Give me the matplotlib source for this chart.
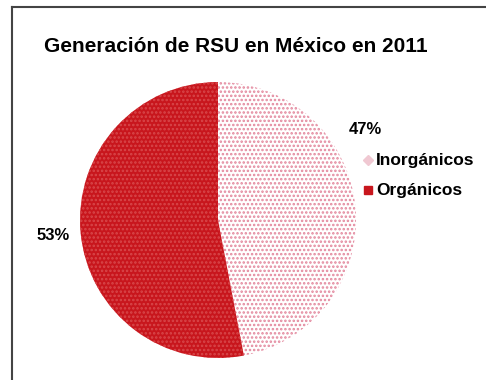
import matplotlib
matplotlib.use('Agg')
import matplotlib.pyplot as plt
from matplotlib.lines import Line2D

plt.rcParams['font.family'] = ['Liberation Sans', 'DejaVu Sans']
plt.rcParams['hatch.linewidth'] = 1.2

# datos de generacion de residuos solidos urbanos
categorias = ['Inorgánicos', 'Orgánicos']
porcentajes = [47, 53]
colores = ['white', '#c8161d']
puntos = ['#e3869c', '#d8484b']
titulo = 'Generación de RSU en México en 2011'

W, H = 486, 380
fig = plt.figure(figsize=(W / 100, H / 100), dpi=100)
ax = fig.add_axes([0, 0, 1, 1])

wedges, _ = ax.pie(porcentajes, colors=colores, startangle=90, counterclock=False,
                   center=(218, H - 220), radius=138, frame=True,
                   wedgeprops=dict(linewidth=0))
for w, pc in zip(wedges, puntos):
    w.set_hatch('....')
    w.set_edgecolor(pc)
ax.set_xlim(0, W)
ax.set_ylim(0, H)
ax.set_aspect('equal')
ax.axis('off')

# etiquetas de porcentaje
ax.text(365, H - 130, '{}%'.format(porcentajes[0]), fontsize=12, fontweight='bold',
        ha='center', va='center')
ax.text(53, H - 236, '{}%'.format(porcentajes[1]), fontsize=12, fontweight='bold',
        ha='center', va='center')

ax.text(236, H - 47, titulo, fontsize=15, fontweight='bold', ha='center', va='center')

# leyenda
for i, cat in enumerate(categorias):
    y = H - 160 - i * 30
    mc = '#f0c8d2' if i == 0 else '#c8161d'
    ax.plot([368], [y], marker='D' if i == 0 else 's', ms=5 if i == 0 else 6,
            color=mc, mec=mc)
    ax.text(376, y, cat, fontsize=12.5, fontweight='bold', ha='left', va='center')

# marco del grafico
fig.add_artist(Line2D([12 / W, 485 / W], [1 - 7 / H, 1 - 7 / H], color='#444444',
                      lw=1.5, transform=fig.transFigure))
fig.add_artist(Line2D([12 / W, 12 / W], [1 - 7 / H, 1 - 379 / H], color='#444444',
                      lw=1.5, transform=fig.transFigure))

fig.savefig('out.png', dpi=100)
